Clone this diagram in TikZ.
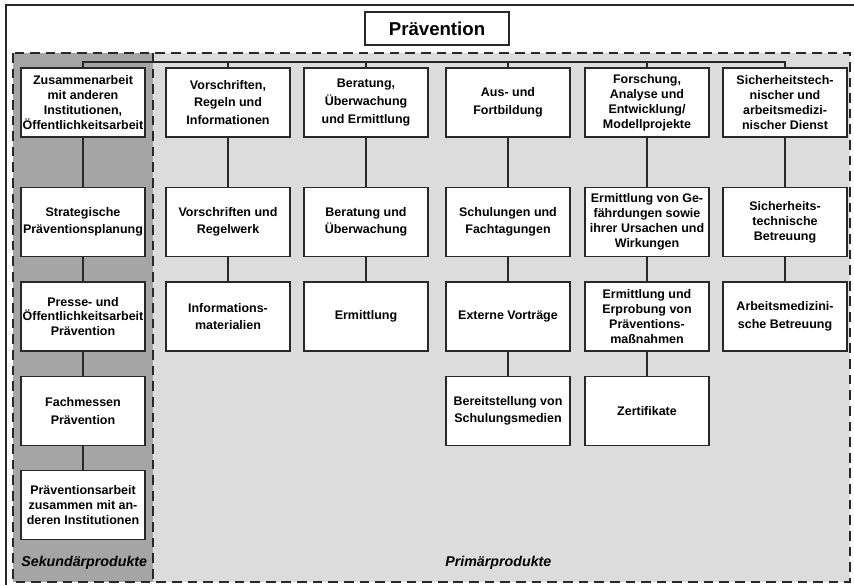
\documentclass[tikz,border=0pt]{standalone}
\usepackage{fontspec}
\setmainfont{Liberation Sans}
\usepackage{tikz}
\usetikzlibrary{positioning}
\usepackage{xcolor}
\definecolor{pvsecgray}{RGB}{165,165,165}
\definecolor{pvprimgray}{RGB}{220,220,220}
\definecolor{pvline}{RGB}{40,40,40}
\tikzstyle{link} = [line width=0.7pt, color=pvline]

\begin{document}
\begin{tikzpicture}[x=0.02cm, y=-0.02cm,
    product/.style={rectangle, draw=pvline, line width=0.8pt, fill=white, minimum width=2.48cm, minimum height=1.38cm, align=center, inner sep=1pt, font=\fontsize{7.1}{8.5}\selectfont\bfseries},
    spaced/.style={font=\fontsize{7.1}{10}\selectfont\bfseries},
    region/.style={draw=pvline, line width=0.7pt, dash pattern=on 5.5pt off 3.4pt},
    areatitle/.style={anchor=west, inner sep=0pt, font=\fontsize{8.1}{9.5}\selectfont\bfseries\itshape}]
\useasboundingbox (0,0) rectangle (854,585);

% Outer frame
\draw[line width=0.6pt, pvline] (6,585) -- (6,5) -- (854,5);

% Areas
\fill[pvsecgray] (13,53) rectangle (153,582);
\fill[pvprimgray] (153,53) rectangle (850,582);
\draw[region] (13,53) rectangle (850,582);
\draw[region] (153,53) -- (153,582);

% Title
\node[rectangle, draw=pvline, line width=0.8pt, fill=white, minimum width=2.88cm, minimum height=0.66cm, font=\fontsize{10.6}{12}\selectfont\bfseries] (praevention) at (437,28.5) {Prävention};

% Secondary products
\node[product] (zusammenarbeit) at (83,102.5) {Zusammenarbeit\\mit anderen\\Institutionen,\\Öffentlichkeitsarbeit};
\node[product, spaced] (planung) at (83,222) {Strategische\\Präventionsplanung};
\node[product] (presse) at (83,316.5) {Presse- und\\Öffentlichkeitsarbeit\\Prävention};
\node[product, spaced] (messen) at (83,411) {Fachmessen\\Prävention};
\node[product] (kooperation) at (83,505) {Präventionsarbeit\\zusammen mit an-\\deren Institutionen};

% Rules
\node[product, spaced] (vorschriften) at (228,102.5) {Vorschriften,\\Regeln und\\Informationen};
\node[product, spaced] (regelwerk) at (228,222) {Vorschriften und\\Regelwerk};
\node[product, spaced] (material) at (228,316.5) {Informations-\\materialien};

% Consulting
\node[product, spaced] (beratung) at (366,102.5) {Beratung,\\Überwachung\\und Ermittlung};
\node[product, spaced] (ueberwachung) at (366,222) {Beratung und\\Überwachung};
\node[product] (ermittlung) at (366,316.5) {Ermittlung};

% Training
\node[product, spaced] (bildung) at (508,102.5) {Aus- und\\Fortbildung};
\node[product, spaced] (schulung) at (508,222) {Schulungen und\\Fachtagungen};
\node[product] (vortraege) at (508,316.5) {Externe Vorträge};
\node[product, spaced] (medien) at (508,411) {Bereitstellung von\\Schulungsmedien};

% Research
\node[product] (forschung) at (647,102.5) {Forschung,\\Analyse und\\Entwicklung/\\Modellprojekte};
\node[product] (gefaehrdung) at (647,222) {Ermittlung von Ge-\\fährdungen sowie\\ihrer Ursachen und\\Wirkungen};
\node[product] (erprobung) at (647,316.5) {Ermittlung und\\Erprobung von\\Präventions-\\maßnahmen};
\node[product] (zertifikate) at (647,411) {Zertifikate};

% Safety service
\node[product] (dienst) at (785,102.5) {Sicherheitstech-\\nischer und\\arbeitsmedizi-\\nischer Dienst};
\node[product] (sicherheit) at (785,222) {Sicherheits-\\technische\\Betreuung};
\node[product, spaced] (medizin) at (785,316.5) {Arbeitsmedizini-\\sche Betreuung};

% Area labels
\node[areatitle] (sekundaer) at (21,563) {Sekundärprodukte};
\node[areatitle] (primaer) at (445,563) {Primärprodukte};

% Connections
\coordinate (bus) at (0,62);
\draw[link] (zusammenarbeit.north) |- (dienst.north |- bus) -- (dienst.north);
\foreach \n in {vorschriften,beratung,bildung,forschung}
  \draw[link] (\n.north) -- (\n.north |- bus);

\draw[link] (zusammenarbeit) -- (planung);
\draw[link] (planung) -- (presse);
\draw[link] (presse) -- (messen);
\draw[link] (messen) -- (kooperation);

\draw[link] (vorschriften) -- (regelwerk);
\draw[link] (regelwerk) -- (material);

\draw[link] (beratung) -- (ueberwachung);
\draw[link] (ueberwachung) -- (ermittlung);

\draw[link] (bildung) -- (schulung);
\draw[link] (schulung) -- (vortraege);
\draw[link] (vortraege) -- (medien);

\draw[link] (forschung) -- (gefaehrdung);
\draw[link] (gefaehrdung) -- (erprobung);
\draw[link] (erprobung) -- (zertifikate);

\draw[link] (dienst) -- (sicherheit);
\draw[link] (sicherheit) -- (medizin);
\end{tikzpicture}
\end{document}
